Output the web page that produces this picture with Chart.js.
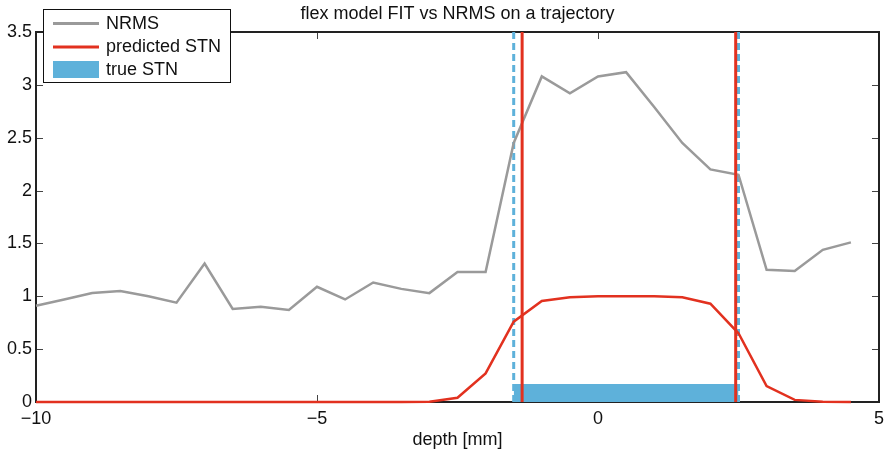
<!DOCTYPE html>
<html>
<head>
<meta charset="utf-8">
<script src="https://cdn.jsdelivr.net/npm/chart.js@4.4.1/dist/chart.umd.min.js"></script>
<style>
  body { margin: 0; background: #fff; }
  canvas { display: block; }
</style>
</head>
<body>
<canvas id="chart" width="890" height="452"></canvas>
<script>
// depth along the trajectory [mm]
const depth = [-10, -9.5, -9, -8.5, -8, -7.5, -7, -6.5, -6, -5.5, -5, -4.5, -4, -3.5, -3,
  -2.5, -2, -1.5, -1, -0.5, 0, 0.5, 1, 1.5, 2, 2.5, 3, 3.5, 4, 4.5];
const nrms = [0.91, 0.97, 1.03, 1.05, 1.00, 0.94, 1.31, 0.88, 0.90, 0.87, 1.09, 0.97, 1.13, 1.07, 1.03,
  1.23, 1.23, 2.45, 3.08, 2.92, 3.08, 3.12, 2.79, 2.45, 2.20, 2.15, 1.25, 1.24, 1.44, 1.51];
const predicted = [0, 0, 0, 0, 0, 0, 0, 0, 0, 0, 0, 0, 0, 0, 0.003,
  0.04, 0.27, 0.76, 0.955, 0.99, 1.0, 1.0, 1.0, 0.99, 0.93, 0.65, 0.15, 0.02, 0.003, 0];
const predictedEdges = [-1.35, 2.45];
const trueEdges = [-1.5, 2.5];
const trueBarHeight = 0.17;
const xTicks = [-10, -5, 0, 5];
const yTicks = [0, 0.5, 1, 1.5, 2, 2.5, 3, 3.5];

const FONT = '"Liberation Sans", Arial, sans-serif';
const GRAY = '#9a9a9a';
const RED = '#e2311f';
const BLUE = '#5eb1da';

function vline(xv, color, dash, order) {
  return {
    data: [{ x: xv, y: 0 }, { x: xv, y: 3.5 }],
    borderColor: color,
    borderWidth: 3,
    borderDash: dash,
    pointRadius: 0,
    fill: false,
    order: order
  };
}

const datasets = [
  {
    label: 'true STN',
    data: trueEdges.map(v => ({ x: v, y: trueBarHeight })),
    borderWidth: 0,
    backgroundColor: BLUE,
    fill: 'origin',
    pointRadius: 0,
    order: 10
  },
  vline(trueEdges[0], BLUE, [7, 4], 9),
  vline(trueEdges[1], BLUE, [7, 4], 9),
  {
    label: 'NRMS',
    data: depth.map((d, i) => ({ x: d, y: nrms[i] })),
    borderColor: GRAY,
    borderWidth: 2.5,
    pointRadius: 0,
    fill: false,
    order: 5
  },
  {
    label: 'predicted STN',
    data: depth.map((d, i) => ({ x: d, y: predicted[i] })),
    borderColor: RED,
    borderWidth: 2.5,
    pointRadius: 0,
    fill: false,
    order: 3
  },
  vline(predictedEdges[0], RED, [], 1),
  vline(predictedEdges[1], RED, [], 1)
];

// box, inward ticks, title and legend in Matlab style
const matlabFrame = {
  id: 'matlabFrame',
  beforeDatasetsDraw(chart) {
    const { ctx, chartArea: a, scales: { x, y } } = chart;
    ctx.save();
    ctx.lineWidth = 1;
    ctx.strokeStyle = '#444';
    xTicks.forEach(v => {
      const px = Math.round(x.getPixelForValue(v)) + 0.5;
      ctx.beginPath();
      ctx.moveTo(px, a.bottom); ctx.lineTo(px, a.bottom - 7);
      ctx.moveTo(px, a.top); ctx.lineTo(px, a.top + 7);
      ctx.stroke();
    });
    yTicks.forEach(v => {
      const py = Math.round(y.getPixelForValue(v)) + 0.5;
      ctx.beginPath();
      ctx.moveTo(a.left, py); ctx.lineTo(a.left + 7, py);
      ctx.moveTo(a.right, py); ctx.lineTo(a.right - 7, py);
      ctx.stroke();
    });
    ctx.lineWidth = 2;
    ctx.strokeStyle = '#222';
    ctx.strokeRect(a.left, a.top, a.width, a.height);
    ctx.restore();
  },
  afterDraw(chart) {
    const { ctx, chartArea: a } = chart;
    ctx.save();
    ctx.fillStyle = '#111';
    ctx.font = '18px ' + FONT;
    ctx.textAlign = 'center';
    ctx.textBaseline = 'alphabetic';
    ctx.fillText('flex model FIT vs NRMS on a trajectory', (a.left + a.right) / 2, 19);

    // legend
    ctx.fillStyle = '#fff';
    ctx.fillRect(43.5, 9.5, 187, 73);
    ctx.strokeStyle = '#111';
    ctx.lineWidth = 1;
    ctx.strokeRect(43.5, 9.5, 187, 73);
    ctx.lineWidth = 3;
    ctx.strokeStyle = GRAY;
    ctx.beginPath(); ctx.moveTo(53, 23.5); ctx.lineTo(99, 23.5); ctx.stroke();
    ctx.strokeStyle = RED;
    ctx.beginPath(); ctx.moveTo(53, 47); ctx.lineTo(99, 47); ctx.stroke();
    ctx.fillStyle = BLUE;
    ctx.fillRect(53, 61, 46, 17);
    ctx.fillStyle = '#111';
    ctx.textAlign = 'left';
    ctx.textBaseline = 'middle';
    ctx.fillText('NRMS', 106, 24);
    ctx.fillText('predicted STN', 106, 47);
    ctx.fillText('true STN', 106, 70);
    ctx.restore();
  }
};

new Chart(document.getElementById('chart'), {
  type: 'line',
  data: { datasets },
  options: {
    responsive: false,
    animation: false,
    devicePixelRatio: 1,
    layout: { padding: { top: 32, right: 7, left: 0, bottom: 0 } },
    plugins: { legend: { display: false }, tooltip: { enabled: false } },
    elements: { line: { tension: 0 } },
    datasets: { line: { clip: false } },
    scales: {
      x: {
        type: 'linear',
        min: -10,
        max: 5,
        afterBuildTicks: s => { s.ticks = xTicks.map(v => ({ value: v })); },
        afterFit: s => { s.height = 50; },
        grid: { display: false, drawTicks: false },
        border: { display: false },
        ticks: {
          color: '#111',
          font: { family: FONT, size: 18 },
          padding: 6,
          maxRotation: 0,
          callback: v => String(v).replace('-', '\u2212')
        },
        title: {
          display: true,
          text: 'depth [mm]',
          color: '#111',
          font: { family: FONT, size: 18 },
          padding: { top: 0, bottom: 1 }
        }
      },
      y: {
        type: 'linear',
        min: 0,
        max: 3.5,
        afterBuildTicks: s => { s.ticks = yTicks.map(v => ({ value: v })); },
        afterFit: s => { s.width = 36; },
        grid: { display: false, drawTicks: false },
        border: { display: false },
        ticks: {
          color: '#111',
          font: { family: FONT, size: 18 },
          padding: 4,
          callback: v => String(v)
        }
      }
    }
  },
  plugins: [matlabFrame]
});
</script>
</body>
</html>
